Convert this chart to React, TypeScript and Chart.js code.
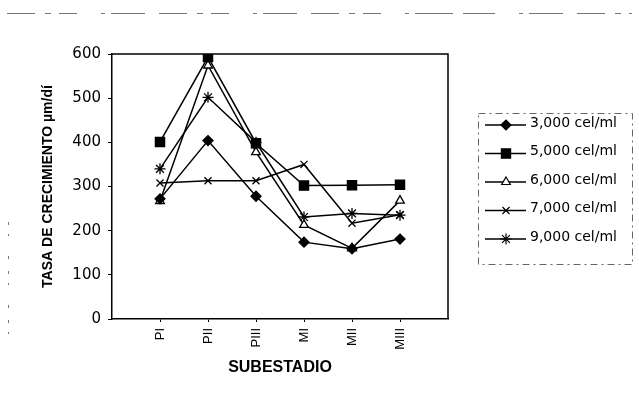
import React, { useEffect, useRef } from 'react';
import { Chart, registerables } from 'chart.js';
import { drawPoint } from 'chart.js/helpers';

Chart.register(...registerables);

const categories = ['PI', 'PII', 'PIII', 'MI', 'MII', 'MIII'];
const seriesLabels = ['3,000 cel/ml', '5,000 cel/ml', '6,000 cel/ml', '7,000 cel/ml', '9,000 cel/ml'];
const s3000 = [272, 404, 278, 174, 159, 181];
const s5000 = [401, 593, 398, 302, 303, 304];
const s6000 = [267, 574, 378, 213, 160, 268];
const s7000 = [308, 313, 313, 350, 217, 236];
const s9000 = [340, 502, 400, 231, 239, 235];
const yTicks = [0, 100, 200, 300, 400, 500, 600];
const yTitle = 'TASA DE CRECIMIENTO µm/dí';
const xTitle = 'SUBESTADIO';

const FONT = "'Liberation Sans', Arial, sans-serif";
const WIDE = "'DejaVu Sans', 'Liberation Sans', sans-serif";

const styles = [
  { pointStyle: 'rectRot', radius: 5, bg: '#000' },
  { pointStyle: 'rect', radius: 6.5, bg: '#000' },
  { pointStyle: 'triangle', radius: 5, bg: '#fff' },
  { pointStyle: 'crossRot', radius: 5, bg: '#000' },
  { pointStyle: 'star', radius: 5.5, bg: '#000' },
];

const extrasPlugin = {
  id: 'extras',
  afterDraw(chart: any) {
    const ctx = chart.ctx;
    const a = chart.chartArea;
    ctx.save();
    // frame top/right
    ctx.strokeStyle = '#000';
    ctx.lineWidth = 1.5;
    ctx.beginPath();
    ctx.moveTo(a.left, a.top);
    ctx.lineTo(a.right, a.top);
    ctx.lineTo(a.right, a.bottom);
    ctx.stroke();

    // scan artefact dashed lines
    ctx.strokeStyle = '#777';
    ctx.lineWidth = 1;
    ctx.setLineDash([28, 10, 6, 8, 18, 24, 4, 6, 34, 14]);
    ctx.beginPath();
    ctx.moveTo(7, 13.5);
    ctx.lineTo(492, 13.5);
    ctx.stroke();
    ctx.beginPath();
    ctx.moveTo(425, 13.5);
    ctx.lineTo(632, 13.5);
    ctx.stroke();
    ctx.setLineDash([3, 9, 2, 20, 3, 12]);
    ctx.beginPath();
    ctx.moveTo(8.5, 222);
    ctx.lineTo(8.5, 345);
    ctx.stroke();

    // legend box
    const bx = 478, by = 113, bw = 154, bh = 151;
    ctx.strokeStyle = '#666';
    ctx.setLineDash([7, 4, 2, 4]);
    ctx.strokeRect(bx + 0.5, by + 0.5, bw, bh);
    ctx.setLineDash([]);

    const ds = chart.data.datasets;
    ds.forEach((d: any, i: number) => {
      const y = 125 + i * 28.5;
      ctx.strokeStyle = '#000';
      ctx.lineWidth = 1.5;
      ctx.beginPath();
      ctx.moveTo(485, y);
      ctx.lineTo(526, y);
      ctx.stroke();
      ctx.fillStyle = d.pointBackgroundColor;
      ctx.strokeStyle = '#000';
      ctx.lineWidth = 1.2;
      drawPoint(ctx, { pointStyle: d.pointStyle, radius: d.pointRadius, borderWidth: 1.2, rotation: 0 }, 506, y);
      ctx.fillStyle = '#000';
      ctx.font = `14px ${WIDE}`;
      ctx.textBaseline = 'middle';
      ctx.textAlign = 'left';
      ctx.fillText(d.label, 530, y - 2);
    });
    ctx.restore();
  },
};

export default function App() {
  const ref = useRef<HTMLCanvasElement>(null);
  useEffect(() => {
    if (!ref.current) return;
    const series = [s3000, s5000, s6000, s7000, s9000];
    const chart = new Chart(ref.current, {
      type: 'line',
      data: {
        datasets: series.map((vals, i) => ({
          label: seriesLabels[i],
          data: vals.map((v, j) => ({ x: j + 1, y: v })),
          borderColor: '#000',
          borderWidth: 1.5,
          pointStyle: styles[i].pointStyle,
          pointRadius: styles[i].radius,
          pointBackgroundColor: styles[i].bg,
          pointBorderColor: '#000',
          pointBorderWidth: 1.3,
          tension: 0,
          fill: false,
        })),
      },
      options: {
        animation: false,
        responsive: false,
        devicePixelRatio: 1,
        layout: { padding: { left: 40, top: 54, right: 191, bottom: 35 } },
        plugins: { legend: { display: false }, tooltip: { enabled: false } },
        scales: {
          x: {
            type: 'linear',
            min: 0,
            max: 7,
            afterBuildTicks: (s: any) => {
              s.ticks = categories.map((_, i) => ({ value: i + 1 }));
            },
            ticks: {
              callback: (v: any) => categories[Number(v) - 1] ?? '',
              minRotation: 90,
              maxRotation: 90,
              autoSkip: false,
              padding: 6,
              color: '#000',
              font: { family: FONT, size: 13 },
            },
            grid: { display: true, drawOnChartArea: false, drawTicks: true, tickLength: 3, color: '#000' },
            border: { display: true, color: '#000', width: 1.5 },
            title: { display: true, text: xTitle, color: '#000', padding: 0, font: { family: FONT, size: 16, weight: 'bold' } },
            afterFit: (s: any) => {
              s.height = 412 - 319 - 35;
            },
          },
          y: {
            min: 0,
            max: 600,
            afterBuildTicks: (s: any) => {
              s.ticks = yTicks.map((v) => ({ value: v }));
            },
            ticks: { padding: 7, color: '#000', font: { family: WIDE, size: 15 } },
            grid: { display: true, drawOnChartArea: false, drawTicks: true, tickLength: 4, color: '#000' },
            border: { display: true, color: '#000', width: 1.5 },
            title: { display: true, text: yTitle, color: '#000', padding: 0, font: { family: FONT, size: 14, weight: 'bold' } },
            afterFit: (s: any) => {
              s.width = 112 - 40;
            },
          },
        },
      },
      plugins: [extrasPlugin],
    } as any);
    return () => chart.destroy();
  }, []);
  return (
    <div style={{ position: 'absolute', left: 0, top: 0, width: 639, height: 412, background: '#fff' }}>
      <canvas ref={ref} width={639} height={412} />
    </div>
  );
}
